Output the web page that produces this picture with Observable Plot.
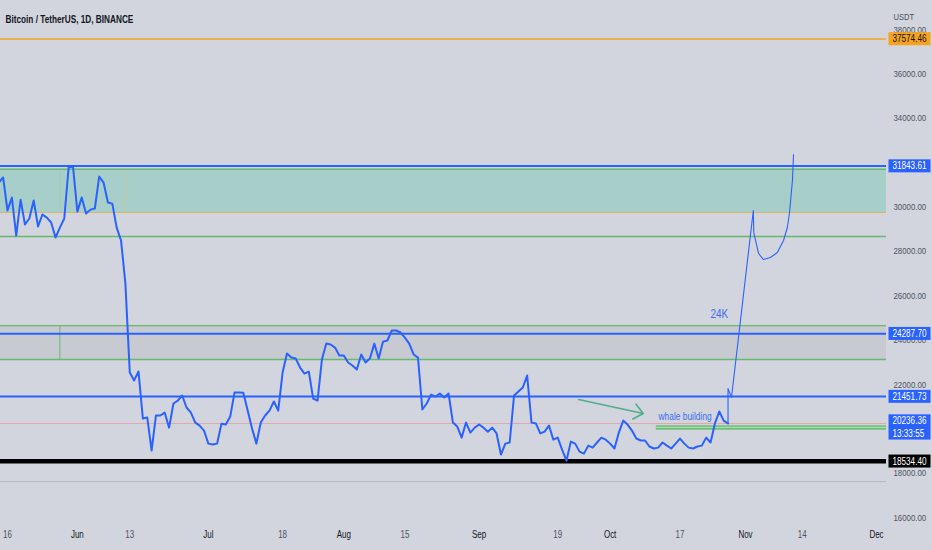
<!DOCTYPE html>
<html>
<head>
<meta charset="utf-8">
<script src="https://cdn.jsdelivr.net/npm/d3@7"></script>
<script src="https://cdn.jsdelivr.net/npm/@observablehq/plot@0.6"></script>
<style>
  html, body { margin: 0; padding: 0; background: #d2d5dd; }
  #chart svg { display: block; }
</style>
</head>
<body>
<div id="chart"></div>
<script>
// ---------- DATA ----------
const title = "Bitcoin / TetherUS, 1D, BINANCE";
const currency = "USDT";
const startDate = "2022-05-14"; // first daily close (one bar per day)
const closes = [
  31100, 31330, 29840, 30420, 28710, 30330, 29210, 29480, 30290, 29120, 29660, 29520, 29300, 28620, 29070, 29480, 31780, 31820,
  29790, 30430, 29700, 29880, 29930, 31370, 31100, 30200, 30150, 29070, 28490, 26550, 22540, 22180, 22580, 20460, 20510, 19020, 20600, 20600,
  20730, 20050, 21140, 21270, 21500, 20960, 20730, 20280, 20140, 19920,
  19330, 19290, 19330, 20230, 20190, 20550, 21640, 21640, 21620, 20820, 20010, 19330, 20280, 20600, 20820, 21230, 20820, 22540, 23390, 23210,
  23170, 22760, 22490, 22580, 21360, 21270, 23120, 23840, 23800, 23660, 23300,
  23300, 22990, 22850, 22670, 23350, 22990, 23170, 23840, 23170, 23930, 23980, 24430, 24430, 24340, 24110, 23840, 23350, 23210, 20870, 21140,
  21540, 21450, 21590, 21410, 21590, 20280, 20100, 19600, 20280, 19830, 20050,
  20190, 20050, 19870, 20050, 19790, 18840, 19330, 19380, 21500, 21680, 21860, 22400, 20280, 20240, 19790, 19870, 20140, 19510, 19600, 19060,
  18560, 19420, 19330, 18970, 18880, 19240, 19150, 19380, 19600, 19510,
  19330, 19110, 19830, 20370, 20190, 19920, 19560, 19470, 19470, 19200, 19110, 19150, 19380, 19240, 19110, 19330, 19560, 19330, 19150, 19110,
  19200, 19240, 19600, 19380, 20240, 20780, 20370, 20240
];

// hand-drawn projection path
const projTimes = [
  "2022-10-28T00:00Z", "2022-10-28T00:00Z", "2022-10-28T19:00Z", "2022-11-02T19:00Z", "2022-11-02T21:36Z",
  "2022-11-04T00:00Z", "2022-11-05T02:00Z", "2022-11-06T17:00Z", "2022-11-08T07:00Z", "2022-11-09T17:00Z",
  "2022-11-10T14:00Z", "2022-11-11T02:00Z", "2022-11-11T18:00Z", "2022-11-12T00:00Z"
];
const projValues = [20236, 21810, 21410, 29840, 28848, 27901, 27630, 27720, 27946, 28487, 29073, 29749, 31192, 32364];

// zones
const zoneLow = [29750, 23122];
const zoneHigh = [31700, 24654];

// horizontal levels
const orangeLevel = 37574.46;
const blueLevels = [31843.61, 24287.70, 21451.73];
const greenLevels = [31700, 28667, 24654, 23122];
const yellowLevel = 29750;
const currentPrice = 20236.36;
const supportLevel = 18534.40;
const grayLevel = 17620;
const whaleLevel = 20060;
const whaleStart = "2022-10-11T14:00Z";

// faint vertical rectangle edges
const edgeDates = ["2022-05-28", "2022-06-12"];

// annotations
const arrowFrom = {date: "2022-09-23T19:00Z", value: 21320};
const arrowTo = {date: "2022-10-08T14:00Z", value: 20690};
const whaleText = "whale building";
const whaleTextAt = {date: "2022-10-12T02:00Z", value: 20550};
const targetText = "24K";
const targetTextAt = {date: "2022-10-26T00:00Z", value: 25196};

// axes
const yTicks = [16000, 18000, 20000, 22000, 24000, 26000, 28000, 30000, 32000, 34000, 36000, 38000];
const xTickDates = ["2022-05-16", "2022-06-01", "2022-06-13", "2022-07-01", "2022-07-18", "2022-08-01", "2022-08-15",
  "2022-09-01", "2022-09-19", "2022-10-01", "2022-10-17", "2022-11-01", "2022-11-14", "2022-12-01"];
const xTickLabels = ["16", "Jun", "13", "Jul", "18", "Aug", "15", "Sep", "19", "Oct", "17", "Nov", "14", "Dec"];

// price labels on the axis
const priceLabelValues = [37574.46, 31843.61, 24287.70, 21451.73, 18534.40];
const priceLabelTexts = ["37574.46", "31843.61", "24287.70", "21451.73", "18534.40"];
const lastPriceText = "20236.36";
const countdown = "13:33:55";

// ---------- BUILD ----------
const series = closes.map((v, i) => ({date: d3.utcDay.offset(new Date(startDate), i), value: v}));
const proj = projTimes.map((t, i) => ({date: new Date(t), value: projValues[i]}));
const zones = zoneLow.map((lo, i) => ({x1: new Date("2022-04-01"), x2: new Date("2023-01-31"), y1: lo, y2: zoneHigh[i]}));
const ticksX = xTickDates.map((d, i) => ({date: new Date(d), label: xTickLabels[i], month: isNaN(+xTickLabels[i])}));
const labels = priceLabelValues.map((v, i) => ({value: v, text: priceLabelTexts[i]}));

const BLUE = "#2962ff";
const GREEN = "#66b96f";
const FONT = "'Liberation Sans', Arial, sans-serif";
const NARROW = 0.8; // horizontal text compression seen in the reference

const chart = Plot.plot({
  width: 932,
  height: 550,
  marginLeft: 0,
  marginRight: 46,
  marginTop: 0,
  marginBottom: 26,
  style: {background: "transparent", fontFamily: FONT, fontSize: "10px"},
  x: {type: "utc", domain: [new Date("2022-05-16"), new Date("2022-12-01")], range: [7, 876], axis: null},
  y: {domain: [16000, 38000], range: [517, 29], axis: null},
  marks: [
    // zones
    Plot.rect(zones.slice(0, 1), {x1: "x1", x2: "x2", y1: "y1", y2: "y2", fill: "#a7cec8", clip: true}),
    Plot.rect(zones.slice(1), {x1: "x1", x2: "x2", y1: "y1", y2: "y2", fill: "#c8cad1", clip: true}),
    // faint vertical edges
    Plot.ruleX([edgeDates[0]], {x: d => new Date(d), y1: zoneLow[0], y2: zoneHigh[0], stroke: "#9fcaa8", strokeWidth: 1, strokeOpacity: 0.7}),
    Plot.ruleX([edgeDates[0]], {x: d => new Date(d), y1: zoneLow[1], y2: zoneHigh[1], stroke: GREEN, strokeWidth: 1}),
    Plot.ruleX([edgeDates[1]], {x: d => new Date(d), y1: zoneLow[0], y2: zoneHigh[0], stroke: "#d8c488", strokeWidth: 1, strokeOpacity: 0.7}),
    // levels
    Plot.ruleY([grayLevel], {stroke: "#b5b8bf", strokeWidth: 1}),
    Plot.ruleY([currentPrice], {stroke: "#e79a9d", strokeWidth: 0.8}),
    Plot.ruleY(greenLevels, {stroke: GREEN, strokeWidth: 1.3}),
    Plot.ruleY([yellowLevel], {stroke: "#d6b56c", strokeWidth: 1.2}),
    Plot.ruleY([orangeLevel], {stroke: "#f5a623", strokeWidth: 1.6}),
    Plot.ruleY(blueLevels, {stroke: BLUE, strokeWidth: 2}),
    Plot.ruleY([supportLevel], {stroke: "#000000", strokeWidth: 4.5}),
    // whale building band
    Plot.ruleY([whaleLevel], {x1: new Date(whaleStart), x2: new Date("2023-01-31"), stroke: "#6fbf7a", strokeWidth: 4.5, clip: true}),
    Plot.ruleY([whaleLevel], {x1: new Date(whaleStart), x2: new Date("2023-01-31"), stroke: "#a9dab0", strokeWidth: 1.2, clip: true}),
    // arrow
    Plot.arrow([{}], {
      x1: () => new Date(arrowFrom.date), y1: () => arrowFrom.value,
      x2: () => new Date(arrowTo.date), y2: () => arrowTo.value,
      stroke: "#4fae8c", strokeWidth: 1.6, headAngle: 80, headLength: 11
    }),
    // price line
    Plot.line(series, {x: "date", y: "value", stroke: BLUE, strokeWidth: 2, clip: true}),
    // projection
    Plot.line(proj, {x: "date", y: "value", stroke: BLUE, strokeWidth: 1.1, clip: true}),
    // annotations
    Plot.text([whaleText], {x: () => new Date(whaleTextAt.date), y: () => whaleTextAt.value, text: d => d,
      textAnchor: "start", fill: "#3e6cf0", fontSize: 10.5}),
    Plot.text([targetText], {x: () => new Date(targetTextAt.date), y: () => targetTextAt.value, text: d => d,
      fill: "#3e6cf0", fontSize: 12.5}),
    // title & currency
    Plot.text([title], {frameAnchor: "top-left", dx: 5, dy: 15, text: d => d, textAnchor: "start",
      fill: "#131722", fontSize: 10.3, fontWeight: "bold"}),
    Plot.text([currency], {frameAnchor: "top-right", dx: 7, dy: 13, text: d => d, textAnchor: "start",
      fill: "#4c525e", fontSize: 9.5}),
    // y tick labels
    Plot.text(yTicks, {y: d => d, frameAnchor: "right", dx: 7, textAnchor: "start", text: d => d.toFixed(2),
      fill: "#50535e", fontSize: 9.8}),
    // price labels
    Plot.text(labels, {y: "value", frameAnchor: "right", dx: 6, textAnchor: "start", text: "text",
      fill: d => d.value === orangeLevel ? "#131722" : "#ffffff", fontSize: 10.2}),
    Plot.text([currentPrice], {y: d => d, frameAnchor: "right", dx: 6, dy: 3, textAnchor: "start",
      text: () => lastPriceText + "\n" + countdown, fill: "#ffffff", fontSize: 10.2, lineHeight: 1.2,
      lineAnchor: "middle"}),
    // x tick labels
    Plot.text(ticksX, {x: "date", frameAnchor: "bottom", dy: 13, text: "label",
      fill: d => d.month ? "#131722" : "#50535e", fontWeight: d => d.month ? "bold" : "normal", fontSize: 10})
  ]
});

document.getElementById("chart").append(chart);

// colored boxes behind the axis price labels
const boxFill = {};
priceLabelTexts.forEach(t => boxFill[t] = BLUE);
boxFill[lastPriceText + countdown] = BLUE;
boxFill[priceLabelTexts[0]] = "#f7a21b";
boxFill[priceLabelTexts[4]] = "#000000";
chart.querySelectorAll("text").forEach(t => {
  const s = t.textContent;
  if (!(s in boxFill)) return;
  const b = t.getBBox();
  const r = document.createElementNS("http://www.w3.org/2000/svg", "rect");
  r.setAttribute("x", b.x - 4);
  r.setAttribute("y", b.y - 1);
  r.setAttribute("width", 42);
  r.setAttribute("height", b.height + 2);
  r.setAttribute("fill", boxFill[s]);
  if (t.getAttribute("transform")) r.setAttribute("transform", t.getAttribute("transform"));
  t.parentNode.insertBefore(r, t);
});

// compress every text horizontally around its anchor
chart.querySelectorAll("text").forEach(t => {
  const x = +(t.getAttribute("x") || 0);
  const tr = t.getAttribute("transform") || "";
  t.setAttribute("transform", `${tr} translate(${x},0) scale(${NARROW},1) translate(${-x},0)`);
});
</script>
</body>
</html>
